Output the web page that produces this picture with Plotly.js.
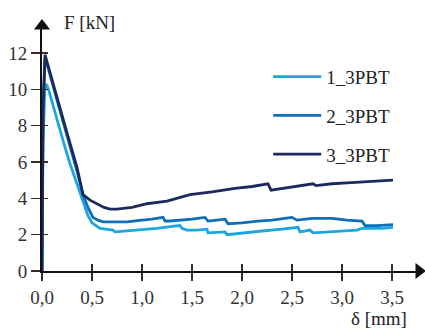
<!DOCTYPE html>
<html>
<head>
<meta charset="utf-8">
<script src="https://cdn.plot.ly/plotly-3.0.1.min.js"></script>
<style>html,body{margin:0;padding:0;background:#fff;}#chart{width:425px;height:328px;}</style>
</head>
<body>
<div id="chart"></div>
<script>
// Series names
const seriesNames = ["1_3PBT", "2_3PBT", "3_3PBT"];

// 1_3PBT (light blue): displacement [mm], force [kN]
const x1 = [0, 0.01, 0.03, 0.05, 0.07, 0.15, 0.22, 0.28, 0.34, 0.40, 0.46, 0.50, 0.58, 0.65, 0.71, 0.73, 0.85, 1.0, 1.15, 1.3, 1.38, 1.40, 1.45, 1.55, 1.65, 1.66, 1.75, 1.83, 1.85, 2.0, 2.2, 2.4, 2.56, 2.58, 2.68, 2.71, 2.9, 3.05, 3.15, 3.2, 3.28, 3.4, 3.51];
const y1 = [0, 7.0, 10.3, 10.2, 9.9, 8.3, 7.0, 5.9, 4.9, 4.0, 3.05, 2.65, 2.35, 2.3, 2.25, 2.15, 2.2, 2.3, 2.35, 2.45, 2.5, 2.35, 2.25, 2.25, 2.3, 2.1, 2.12, 2.15, 2.0, 2.1, 2.2, 2.3, 2.4, 2.15, 2.25, 2.1, 2.15, 2.2, 2.25, 2.35, 2.35, 2.35, 2.4];

// 2_3PBT (medium blue)
const x2 = [0, 0.01, 0.03, 0.06, 0.15, 0.25, 0.35, 0.41, 0.46, 0.51, 0.56, 0.61, 0.71, 0.85, 1.0, 1.1, 1.21, 1.23, 1.28, 1.4, 1.5, 1.63, 1.66, 1.75, 1.83, 1.86, 2.0, 2.16, 2.3, 2.5, 2.55, 2.7, 2.9, 3.05, 3.2, 3.23, 3.35, 3.51];
const y2 = [0, 8.5, 11.7, 11.2, 9.4, 7.5, 5.5, 4.2, 3.5, 2.95, 2.8, 2.7, 2.7, 2.7, 2.8, 2.85, 2.95, 2.75, 2.75, 2.8, 2.85, 2.95, 2.75, 2.8, 2.85, 2.6, 2.65, 2.75, 2.8, 2.95, 2.8, 2.9, 2.9, 2.8, 2.75, 2.5, 2.5, 2.55];

// 3_3PBT (dark navy)
const x3 = [0, 0.01, 0.03, 0.06, 0.15, 0.25, 0.35, 0.41, 0.48, 0.55, 0.62, 0.68, 0.75, 0.9, 1.05, 1.25, 1.48, 1.7, 1.93, 2.1, 2.26, 2.29, 2.4, 2.53, 2.71, 2.74, 2.9, 3.05, 3.21, 3.35, 3.51];
const y3 = [0, 9.0, 11.9, 11.3, 9.5, 7.6, 5.7, 4.2, 3.9, 3.7, 3.5, 3.4, 3.4, 3.5, 3.7, 3.85, 4.2, 4.35, 4.55, 4.65, 4.8, 4.45, 4.55, 4.65, 4.8, 4.7, 4.8, 4.85, 4.9, 4.95, 5.0];

// Axis ticks
const xTicks = [0, 0.5, 1.0, 1.5, 2.0, 2.5, 3.0, 3.5];
const yTicks = [0, 2, 4, 6, 8, 10, 12];

const colors = ["#1BA6E0", "#0C6FB8", "#1B2A5C"];
const xMax = 3.77, yMax = 13.48;
const serif = "Liberation Serif";

const traces = [
  {x: x1, y: y1, name: seriesNames[0], legendgroup: "a"},
  {x: x2, y: y2, name: seriesNames[1], legendgroup: "b"},
  {x: x3, y: y3, name: seriesNames[2], legendgroup: "c"}
].map((t, i) => Object.assign(t, {type: "scatter", mode: "lines", line: {color: colors[i], width: 2.8}}));

// axis arrowheads
traces.push({x: [xMax], y: [0], type: "scatter", mode: "markers", showlegend: false, cliponaxis: false, hoverinfo: "skip",
  marker: {symbol: "triangle-right", size: 14, color: "#111"}});
traces.push({x: [0], y: [yMax], type: "scatter", mode: "markers", showlegend: false, cliponaxis: false, hoverinfo: "skip",
  marker: {symbol: "triangle-up", size: 14, color: "#111"}});
// helper for crossing ticks (inside part)
traces.push({x: [], y: [], xaxis: "x2", yaxis: "y2", type: "scatter", mode: "lines", showlegend: false});

const tickCol = "#3a2a2a";
const layout = {
  width: 425, height: 328,
  margin: {l: 42, r: 6, t: 26, b: 57},
  paper_bgcolor: "#fff", plot_bgcolor: "#fff",
  separators: ", ",
  showlegend: true,
  legend: {x: 0.60, y: 0.87, xanchor: "left", yanchor: "top", traceorder: "grouped", tracegroupgap: 11, itemwidth: 48,
    font: {family: serif, size: 19, color: "#222"}, bgcolor: "rgba(0,0,0,0)"},
  xaxis: {range: [0, xMax], tickvals: xTicks, tickformat: ".1f", ticks: "outside", ticklen: 8, tickwidth: 1.5, tickcolor: tickCol,
    showline: true, linecolor: "#111", linewidth: 2, showgrid: false, zeroline: false,
    tickfont: {family: serif, size: 19, color: "#333"}},
  yaxis: {range: [0, yMax], tickvals: yTicks, ticks: "outside", ticklen: 9, tickwidth: 1.5, tickcolor: tickCol,
    showline: true, linecolor: "#111", linewidth: 2, showgrid: false, zeroline: false,
    tickfont: {family: serif, size: 19, color: "#333"}},
  xaxis2: {overlaying: "x", anchor: "y2", range: [0, xMax], tickvals: xTicks, ticks: "inside", ticklen: 7, tickwidth: 1.5, tickcolor: tickCol,
    showticklabels: false, showline: false, showgrid: false, zeroline: false, side: "bottom"},
  yaxis2: {overlaying: "y", anchor: "x2", range: [0, yMax], tickvals: yTicks, ticks: "inside", ticklen: 6, tickwidth: 1.5, tickcolor: tickCol,
    showticklabels: false, showline: false, showgrid: false, zeroline: false, side: "left"},
  annotations: [
    {text: "F [kN]", xref: "paper", yref: "paper", x: 0.053, y: 1.016, xanchor: "left", yanchor: "middle", showarrow: false,
      font: {family: serif, size: 19, color: "#222"}},
    {text: "δ [mm]", xref: "paper", yref: "paper", x: 0.894, y: -0.192, xanchor: "center", yanchor: "middle", showarrow: false,
      font: {family: serif, size: 19, color: "#222"}}
  ]
};

Plotly.newPlot("chart", traces, layout, {displayModeBar: false, staticPlot: true});
</script>
</body>
</html>
